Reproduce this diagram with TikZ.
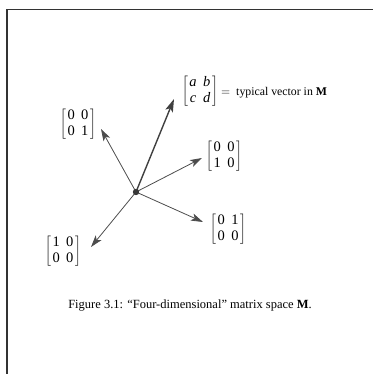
\documentclass[tikz,border=0pt]{standalone}
\usepackage{fontspec}
\setmainfont{Liberation Serif}
\usetikzlibrary{arrows.meta}
\newcommand{\mymat}[4]{$\left[\begin{tabular}{@{\hspace{1.5pt}}c@{\hspace{6.5pt}}c@{\hspace{1.5pt}}}#1&#2\\#3&#4\end{tabular}\right]$}
\begin{document}
\begin{tikzpicture}[x=1pt,y=-1pt,
  vec/.style={draw=black!70, line width=0.8pt, -{Stealth[length=12pt,width=7.5pt,inset=3pt]}},
  thickvec/.style={draw=black!75, line width=1.4pt, -{Stealth[length=13pt,width=8pt,inset=3pt]}},
  mat/.style={inner sep=0pt, font=\fontsize{14.5}{16.5}\selectfont},
  frame/.style={draw=black!80, line width=1.2pt}]
\useasboundingbox (0,0) rectangle (373,374);
\draw[frame] (7,374) -- (7,9.5) -- (373,9.5);
\coordinate (O) at (136,192);
\coordinate (t1) at (174,99);
\coordinate (t2) at (101,129);
\coordinate (t3) at (202,158);
\coordinate (t4) at (203,222);
\coordinate (t5) at (91,247);
\node[mat] (mabcd) at (200,91) {\mymat{\textit{a}}{\textit{b}}{\textit{c}}{\textit{d}}};
\node[mat, anchor=west, font=\fontsize{11.8}{14}\selectfont] (typ) at (221,93) {$=$\enspace typical vector in \textbf{M}};
\node[mat] (m01) at (78,124) {\mymat{0}{0}{0}{1}};
\node[mat] (m10) at (224,156) {\mymat{0}{0}{1}{0}};
\node[mat] (m0100) at (228,229) {\mymat{0}{1}{0}{0}};
\node[mat] (m1000) at (63,251) {\mymat{1}{0}{0}{0}};
\draw[thickvec] (O) -- (t1);
\draw[vec] (O) -- (t2);
\draw[vec] (O) -- (t3);
\draw[vec] (O) -- (t4);
\draw[vec] (O) -- (t5);
\fill[black!78] (O) circle (3.2pt);
\node[font=\fontsize{12.5}{15}\selectfont, anchor=base] (cap) at (190,308) {Figure 3.1: “Four-dimensional” matrix space \textbf{M}.};
\end{tikzpicture}
\end{document}
